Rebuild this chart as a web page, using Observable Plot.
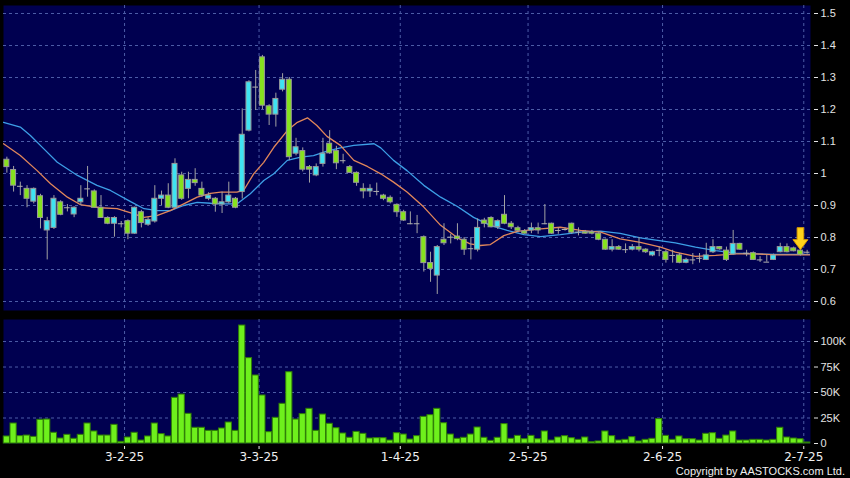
<!DOCTYPE html>
<html>
<head>
<meta charset="utf-8">
<script src="https://cdn.jsdelivr.net/npm/d3@7"></script>
<script src="https://cdn.jsdelivr.net/npm/@observablehq/plot@0.6"></script>
<style>
  html, body { margin: 0; padding: 0; background: #000; }
  #wrap { position: relative; width: 850px; height: 478px; background: #000; overflow: hidden; }
  #wrap svg { position: absolute; left: 0; }
  #copy { position: absolute; right: 5px; top: 465px; font: 11px/12px "Liberation Sans", Arial, sans-serif; color: #f0f0f0; white-space: nowrap; }
</style>
</head>
<body>
<div id="wrap"><div id="copy">Copyright by AASTOCKS.com Ltd.</div></div>
<script>
// ---- data (trading-day index 0..119, 3 Jan 2025 .. 2 Jul 2025) ----
const open = [
1.043,1.011,0.960,0.952,0.912,0.929,0.822,0.830,0.910,0.893,
0.872,0.910,0.952,0.944,0.893,0.861,0.843,0.843,0.851,0.812,
0.879,0.840,0.850,0.921,0.931,0.893,0.994,0.952,0.980,0.952,
0.921,0.921,0.903,0.910,0.921,0.942,1.134,1.270,1.363,1.210,
1.184,1.262,1.293,1.062,1.070,1.020,0.994,1.030,1.093,1.070,
1.040,1.020,1.002,0.952,0.944,0.944,0.931,0.924,0.902,0.879,
0.843,0.843,0.801,0.720,0.681,0.793,0.801,0.803,0.793,0.765,
0.762,0.853,0.861,0.832,0.871,0.843,0.829,0.819,0.822,0.829,
0.843,0.843,0.822,0.825,0.843,0.817,0.817,0.817,0.812,0.793,
0.762,0.770,0.762,0.762,0.770,0.762,0.744,0.760,0.754,0.744,
0.744,0.721,0.730,0.735,0.730,0.754,0.770,0.759,0.747,0.780,
0.751,0.751,0.730,0.723,0.730,0.754,0.770,0.766,0.759,0.754];
const close = [
1.020,0.962,0.960,0.921,0.952,0.861,0.851,0.921,0.871,0.893,
0.893,0.921,0.952,0.893,0.861,0.843,0.861,0.843,0.812,0.893,
0.845,0.855,0.921,0.931,0.893,1.030,0.921,0.980,0.970,0.931,
0.931,0.903,0.910,0.931,0.893,1.121,1.285,1.270,1.212,1.184,
1.233,1.293,1.051,1.082,1.012,1.012,1.020,1.062,1.063,1.032,
1.040,1.002,0.971,0.944,0.952,0.944,0.921,0.910,0.879,0.853,
0.843,0.843,0.720,0.702,0.770,0.782,0.801,0.795,0.762,0.765,
0.830,0.843,0.832,0.851,0.843,0.832,0.821,0.812,0.829,0.822,
0.843,0.812,0.822,0.825,0.815,0.817,0.812,0.812,0.793,0.762,
0.770,0.762,0.762,0.770,0.762,0.754,0.754,0.760,0.730,0.744,
0.721,0.730,0.730,0.735,0.744,0.770,0.763,0.730,0.780,0.762,
0.751,0.730,0.730,0.723,0.744,0.770,0.754,0.757,0.746,0.754];
const high = [
1.051,1.022,0.973,0.962,0.955,0.935,0.863,0.931,0.915,0.903,
0.896,0.962,1.022,0.949,0.931,0.865,0.865,0.850,0.855,0.895,
0.885,0.862,0.962,0.945,0.968,1.046,1.004,1.004,1.015,0.973,
0.940,0.925,0.942,0.973,0.925,1.202,1.290,1.322,1.369,1.215,
1.251,1.312,1.300,1.110,1.080,1.025,1.030,1.110,1.134,1.085,
1.060,1.025,1.005,0.968,0.965,0.970,0.935,0.930,0.905,0.885,
0.880,0.869,0.805,0.754,0.775,0.843,0.810,0.843,0.800,0.800,
0.858,0.860,0.865,0.855,0.931,0.850,0.835,0.825,0.845,0.845,
0.903,0.845,0.830,0.830,0.845,0.830,0.822,0.822,0.815,0.795,
0.793,0.775,0.780,0.778,0.800,0.765,0.757,0.770,0.760,0.760,
0.750,0.735,0.750,0.750,0.782,0.793,0.772,0.770,0.822,0.782,
0.760,0.755,0.740,0.745,0.748,0.782,0.780,0.770,0.762,0.760];
const low = [
1.001,0.942,0.931,0.893,0.905,0.827,0.730,0.825,0.868,0.880,
0.862,0.900,0.926,0.893,0.861,0.840,0.801,0.830,0.793,0.810,
0.830,0.835,0.845,0.900,0.890,0.890,0.916,0.921,0.960,0.925,
0.915,0.879,0.875,0.905,0.890,0.920,1.130,1.197,1.200,1.150,
1.145,1.255,1.040,1.055,1.005,0.970,0.990,1.020,1.060,1.012,
1.030,1.000,0.960,0.921,0.925,0.930,0.915,0.905,0.863,0.850,
0.840,0.812,0.692,0.660,0.622,0.775,0.780,0.790,0.744,0.730,
0.755,0.830,0.830,0.825,0.840,0.825,0.815,0.810,0.812,0.810,
0.840,0.810,0.810,0.820,0.810,0.805,0.810,0.808,0.790,0.760,
0.755,0.760,0.750,0.758,0.755,0.750,0.740,0.740,0.720,0.720,
0.718,0.718,0.715,0.720,0.728,0.750,0.760,0.725,0.745,0.760,
0.740,0.728,0.722,0.723,0.728,0.752,0.752,0.755,0.742,0.748];
const volumeK = [
6.9,19.6,7.2,7.8,6.5,23.2,23.5,10.5,4.9,8.5,
4.6,8.5,19.6,11.8,7.8,7.8,18.3,1.6,5.9,10.5,
2.9,6.9,19.6,9.2,6.9,44.8,48.0,29.1,15.4,15.4,
12.4,12.4,14.7,20.6,12.4,115.7,83.7,66.7,47.1,11.1,
25.2,38.9,69.9,23.5,28.8,34.0,12.4,28.4,19.3,15.0,
9.8,5.6,11.4,9.5,4.9,5.2,5.2,2.9,10.1,8.8,
3.9,7.2,26.1,27.8,34.0,19.9,8.8,4.6,5.6,8.8,
15.7,5.6,2.6,5.6,19.0,4.6,7.5,4.2,7.5,4.2,
11.8,2.9,5.9,7.2,5.2,3.6,5.9,1.3,2.0,11.8,
7.2,2.9,3.6,6.2,2.0,3.6,4.6,23.9,7.5,3.6,
6.9,4.2,4.2,2.9,9.5,10.1,4.6,7.8,11.8,2.9,
2.9,3.6,3.6,2.9,3.6,15.4,5.9,4.9,4.2,1.0];

// moving averages (position in trading-day index, value)
const maSlowIdx = [-0.5,2,3.5,5.5,7.5,10.5,13.4,15.4,18.4,20.4,22.4,24.3,26.3,28.3,30.3,32.3,34.2,36.2,38.2,39.7,41.7,43.7,45.6,47.6,49.6,51.6,54.6,55.6,57.5,59.5,62,64.5,67,69.4,71.9,74.4,76.9,79.4,82.3,85.3,88.3,91.2,94.2,96.5,99.4,102.4,105.4,108.4,111.3,114.3,118.3,119.5];
const maSlowVal = [1.160,1.145,1.119,1.077,1.035,0.994,0.963,0.947,0.912,0.890,0.884,0.884,0.900,0.910,0.907,0.905,0.905,0.937,0.978,0.999,1.041,1.051,1.056,1.070,1.080,1.088,1.093,1.080,1.041,1.009,0.963,0.926,0.897,0.863,0.838,0.822,0.809,0.803,0.809,0.817,0.820,0.813,0.799,0.792,0.783,0.770,0.759,0.751,0.749,0.747,0.747,0.747];
const maFastIdx = [-0.5,2,4.5,6.5,9,10.9,13.9,16.4,18.9,20.4,22.4,24.3,26.3,28.3,30.3,31.8,34.2,35.2,36.7,38.2,39.7,41.7,43.2,44.7,46.1,47.6,49.6,51.6,53.6,55.6,57.5,59.5,62,64.5,67,68.9,70.4,71.9,73.9,75.9,77.9,79.4,82.3,85.3,88.3,91.2,94.2,97.2,99.4,102.4,105.4,108.4,111.3,114.3,118.3,119.5];
const maFastVal = [1.093,1.056,1.009,0.968,0.926,0.903,0.893,0.890,0.874,0.863,0.869,0.884,0.905,0.926,0.938,0.942,0.942,0.947,0.999,1.035,1.082,1.134,1.160,1.174,1.150,1.116,1.088,1.041,1.022,0.999,0.973,0.942,0.895,0.838,0.799,0.780,0.775,0.778,0.806,0.819,0.824,0.827,0.832,0.822,0.817,0.796,0.785,0.770,0.754,0.741,0.744,0.749,0.749,0.746,0.746,0.746];

const monthStartIdx = [18, 38, 59, 78, 98, 119];
const monthLabels = ["3-2-25", "3-3-25", "1-4-25", "2-5-25", "2-6-25", "2-7-25"];
const priceTicks = [0.6,0.7,0.8,0.9,1.0,1.1,1.2,1.3,1.4,1.5];
const volumeTicksK = [0,25,50,75,100];
const markerIdx = 118, markerPrice = 0.762;

// ---- build tables ----
const candles = open.map((o, i) => ({i, o, c: close[i], h: high[i], l: low[i]}));
const bodies = candles.filter(d => d.o !== d.c);
const dojis = candles.filter(d => d.o === d.c);
const vols = volumeK.map((v, i) => ({i, v: v * 1000}));
const slow = maSlowIdx.map((x, k) => ({x, y: maSlowVal[k]}));
const fast = maFastIdx.map((x, k) => ({x, y: maFastVal[k]}));
const gridPos = monthStartIdx.map(d => d - 0.5);
const labelOf = new Map(gridPos.map((p, k) => [p, monthLabels[k]]));

const NAVY = "#000050", GRID = "#4c5ca6";
const UP = "#3fe3f2", DOWN = "#86e21e";
const xDomain = [-0.5, 119.5];

const arrowSymbol = {
  draw(ctx) {
    ctx.moveTo(-3.3, -22); ctx.lineTo(3.3, -22); ctx.lineTo(3.3, -10);
    ctx.lineTo(7.5, -10); ctx.lineTo(0, 0); ctx.lineTo(-7.5, -10);
    ctx.lineTo(-3.3, -10); ctx.closePath();
  }
};

const price = Plot.plot({
  width: 850, height: 316,
  marginLeft: 3, marginRight: 40, marginTop: 5, marginBottom: 6,
  style: {background: "transparent", fontFamily: "'Liberation Sans', Arial, sans-serif", fontSize: "11px", overflow: "visible"},
  x: {domain: xDomain, axis: null},
  y: {domain: [0.5719, 1.525], axis: null},
  marks: [
    Plot.frame({fill: NAVY, stroke: "none"}),
    Plot.gridY(priceTicks, {stroke: GRID, strokeOpacity: 1, strokeDasharray: "3,3"}),
    Plot.gridX(gridPos, {stroke: GRID, strokeOpacity: 1, strokeDasharray: "3,3"}),
    Plot.line(slow, {x: "x", y: "y", stroke: "#3d9fe6", strokeWidth: 1.3, clip: true}),
    Plot.line(fast, {x: "x", y: "y", stroke: "#e2875a", strokeWidth: 1.3, clip: true}),
    Plot.ruleX(candles, {x: "i", y1: "l", y2: "h", stroke: "#a2a2a2", strokeWidth: 1}),
    Plot.rect(bodies, {
      x1: d => d.i - 0.37, x2: d => d.i + 0.37,
      y1: d => Math.min(d.o, d.c), y2: d => Math.max(d.o, d.c),
      fill: d => d.c > d.o ? UP : DOWN, stroke: "#9a9a9a", strokeWidth: 1
    }),
    Plot.ruleY(dojis, {y: "o", x1: d => d.i - 0.42, x2: d => d.i + 0.42, stroke: "#b0b0b0", strokeWidth: 1}),
    Plot.dot([{i: markerIdx, p: markerPrice}], {x: "i", y: "p", symbol: arrowSymbol, r: 6, fill: "#ffd21a", stroke: "#d99a00", strokeWidth: 1}),
    Plot.axisY(priceTicks, {anchor: "right", label: null, tickSize: 4, tickPadding: 3, dx: 3, color: "#e4e4e4",
      tickFormat: d => d === 1 ? "1" : d.toFixed(1)})
  ]
});
price.style.top = "0px";

const volume = Plot.plot({
  width: 850, height: 162,
  marginLeft: 3, marginRight: 40, marginTop: 3, marginBottom: 35,
  style: {background: "transparent", fontFamily: "'Liberation Sans', Arial, sans-serif", fontSize: "11px", overflow: "visible"},
  x: {domain: xDomain, axis: null},
  y: {domain: [0, 121600], axis: null},
  marks: [
    Plot.frame({fill: NAVY, stroke: "none"}),
    Plot.gridY(volumeTicksK.slice(1).map(d => d * 1000), {stroke: GRID, strokeOpacity: 1, strokeDasharray: "3,3"}),
    Plot.gridX(gridPos, {stroke: GRID, strokeOpacity: 1, strokeDasharray: "3,3"}),
    Plot.rectY(vols, {x1: d => d.i - 0.46, x2: d => d.i + 0.46, y: "v", fill: "#6ef01c", stroke: "#2f7d06", strokeWidth: 1}),
    Plot.axisY(volumeTicksK.map(d => d * 1000), {anchor: "right", label: null, tickSize: 4, tickPadding: 3, dx: 3, color: "#e4e4e4",
      tickFormat: d => d === 0 ? "0" : (d / 1000) + "K"}),
    Plot.axisX(gridPos, {anchor: "bottom", label: null, tickSize: 3, tickPadding: 3, dy: 3, color: "#f0f0f0",
      fontFamily: "'DejaVu Sans', sans-serif", fontSize: 12, tickFormat: d => labelOf.get(d)})
  ]
});
volume.style.top = "316px";

const wrap = document.getElementById("wrap");
wrap.insertBefore(volume, wrap.firstChild);
wrap.insertBefore(price, wrap.firstChild);
</script>
</body>
</html>
